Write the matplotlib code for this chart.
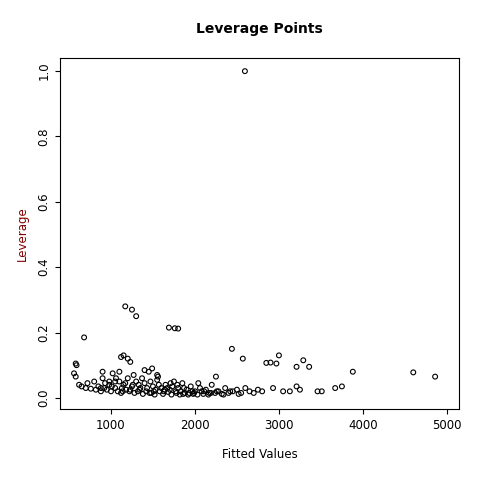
import matplotlib.pyplot as plt

# outlying points
out_x = [2595, 1170, 1250, 1300, 680, 1690, 1760, 1800, 2440, 1120, 1150, 1200, 1230,
         2570, 3000, 2970, 2900, 2850, 3290, 3360, 3210, 4600, 4860, 3880, 2250,
         580, 590, 560, 580, 3750, 3670, 3460, 3510, 3210, 3130, 2930, 3050, 3250]
out_y = [1.0, 0.28, 0.27, 0.25, 0.185, 0.215, 0.213, 0.212, 0.15, 0.125, 0.13, 0.12, 0.11,
         0.12, 0.13, 0.105, 0.108, 0.107, 0.115, 0.095, 0.095, 0.078, 0.065, 0.08, 0.065,
         0.105, 0.1, 0.075, 0.065, 0.035, 0.03, 0.02, 0.02, 0.035, 0.02, 0.03, 0.02, 0.025]

# dense cluster (hand-read approximations)
cl_x = [620, 650, 700, 720, 760, 800, 820, 850, 880, 900, 920, 950, 980, 1000,
        1020, 1050, 1080, 1100, 1120, 1150, 1180, 1200, 1220, 1250, 1280, 1300,
        1320, 1350, 1380, 1400, 1420, 1450, 1480, 1500, 1520, 1550, 1580, 1600,
        1620, 1650, 1680, 1700, 1720, 1750, 1780, 1800, 1820, 1850, 1880, 1900,
        1920, 1950, 1980, 2000, 2030, 2060, 2100, 2130, 2160, 2200, 2240, 2280,
        2320, 2360, 2400, 2450, 2500, 2550, 2600, 2650, 2700, 2750, 2800,
        880, 930, 1010, 1060, 1130, 1170, 1230, 1270, 1330, 1370, 1430, 1470,
        1530, 1570, 1630, 1670, 1730, 1770, 1830, 1870, 1930, 1970, 2040, 2110,
        2190, 2260, 2340, 2420, 2520, 1050, 1140, 1260, 1340, 1460, 1510, 1560,
        1640, 1710, 1790, 1860, 1990, 2080, 2170, 1490, 1400, 1550, 900, 980, 1100]
cl_y = [0.04, 0.035, 0.03, 0.045, 0.028, 0.05, 0.025, 0.035, 0.02, 0.08, 0.03, 0.025,
        0.04, 0.02, 0.075, 0.03, 0.02, 0.05, 0.015, 0.04, 0.025, 0.06, 0.02, 0.035,
        0.015, 0.05, 0.02, 0.03, 0.012, 0.045, 0.02, 0.08, 0.015, 0.035, 0.01,
        0.055, 0.02, 0.03, 0.012, 0.04, 0.018, 0.025, 0.01, 0.05, 0.015, 0.03,
        0.01, 0.045, 0.015, 0.025, 0.01, 0.035, 0.012, 0.02, 0.01, 0.03, 0.012,
        0.025, 0.01, 0.04, 0.015, 0.02, 0.012, 0.03, 0.015, 0.02, 0.025, 0.015,
        0.03, 0.02, 0.015, 0.025, 0.02,
        0.03, 0.045, 0.035, 0.06, 0.03, 0.045, 0.025, 0.07, 0.04, 0.06, 0.03, 0.05,
        0.025, 0.04, 0.02, 0.03, 0.035, 0.02, 0.02, 0.03, 0.015, 0.02, 0.045, 0.02,
        0.015, 0.02, 0.01, 0.02, 0.012, 0.05, 0.02, 0.04, 0.025, 0.015, 0.02, 0.065,
        0.025, 0.045, 0.04, 0.012, 0.015, 0.02, 0.015, 0.09, 0.085, 0.07, 0.06, 0.05, 0.08]

fig = plt.figure(figsize=(4.8, 4.8), dpi=100)
ax = fig.add_axes([0.125, 0.148, 0.831, 0.731])
ax.scatter(out_x + cl_x, out_y + cl_y, s=12, facecolors="none",
           edgecolors="black", linewidths=0.8)
ax.set_xlim(393, 5143)
ax.set_ylim(-0.034, 1.04)
ax.set_xticks([1000, 2000, 3000, 4000, 5000])
ax.set_yticks([0.0, 0.2, 0.4, 0.6, 0.8, 1.0])
ax.set_yticklabels(["0.0", "0.2", "0.4", "0.6", "0.8", "1.0"], rotation=90, va="center")
ax.tick_params(labelsize=8.5)
ax.set_xlabel("Fitted Values", fontsize=8.5, labelpad=12)
ax.set_ylabel("Leverage", fontsize=8.5, color="#800000", labelpad=6)
ax.set_title("Leverage Points", fontsize=10, fontweight="bold", pad=18)
fig.savefig("out.png")
